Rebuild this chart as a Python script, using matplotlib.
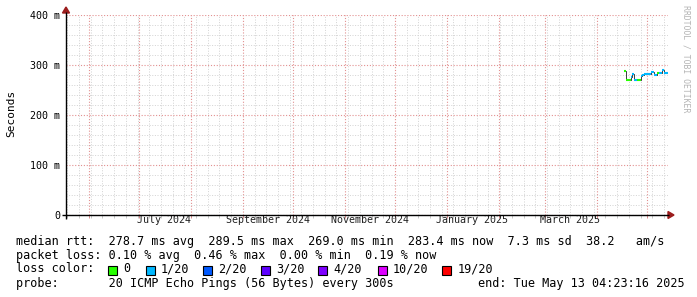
"""Smokeping-style 360-day RTT graph (rrdtool look-alike)."""

import matplotlib

matplotlib.use("Agg")
import matplotlib.pyplot as plt
import matplotlib.dates as mdates
import numpy as np
from matplotlib.patches import Polygon, Rectangle

# ---- data -------------------------------------------------------------------
graph_start = "2024-05-18T04:23:16"
graph_end = "2025-05-13T04:23:16"

sample_days = [
    "2025-04-17", "2025-04-18", "2025-04-19", "2025-04-20", "2025-04-21",
    "2025-04-22", "2025-04-23", "2025-04-24", "2025-04-25", "2025-04-26",
    "2025-04-27", "2025-04-28", "2025-04-29", "2025-04-30", "2025-05-01",
    "2025-05-02", "2025-05-03", "2025-05-04", "2025-05-05", "2025-05-06",
    "2025-05-07", "2025-05-08", "2025-05-09", "2025-05-10", "2025-05-11",
    "2025-05-12", "2025-05-13",
]
median_rtt_ms = [
    288.0, 269.0, 269.0, 270.0, 276.0,
    282.0, 269.0, 270.0, 270.0, 270.0,
    278.0, 280.0, 281.0, 281.0, 281.0,
    281.0, 285.0, 285.0, 279.0, 280.0,
    284.0, 284.0, 284.0, 289.5, 283.0,
    284.0, 283.4,
]
loss_level = [
    0, 0, 0, 0, 1,
    1, 1, 1, 0, 0,
    1, 1, 1, 1, 1,
    1, 1, 1, 1, 1,
    0, 1, 1, 1, 1,
    1, 1,
]

loss_labels = ["0", "1/20", "2/20", "3/20", "4/20", "10/20", "19/20"]
loss_colors = ["#26ff00", "#00b8ff", "#0059ff", "#5e00ff", "#7e00ff", "#dd00ff", "#ff0000"]

y_ticks = [0, 100, 200, 300, 400]
y_tick_labels = ["0", "100 m", "200 m", "300 m", "400 m"]
month_labels = ["July 2024", "September 2024", "November 2024", "January 2025", "March 2025"]
month_label_dates = ["2024-07-16", "2024-09-16", "2024-11-16", "2025-01-16", "2025-03-16"]

line_rtt = "median rtt:  278.7 ms avg  289.5 ms max  269.0 ms min  283.4 ms now  7.3 ms sd  38.2   am/s"
line_loss = "packet loss: 0.10 % avg  0.46 % max  0.00 % min  0.19 % now"
line_probe = "probe:       20 ICMP Echo Pings (56 Bytes) every 300s"
line_end = "end: Tue May 13 04:23:16 2025"

MONO = "DejaVu Sans Mono"
W, H = 697, 297
PX_L, PX_R, PX_T, PX_B = 66, 667.6, 15, 215


def main() -> None:
    fig = plt.figure(figsize=(W / 100, H / 100), dpi=100)
    fig.patch.set_facecolor("white")

    # ---- plot area ----
    ax = fig.add_axes([PX_L / W, (H - PX_B) / H, (PX_R - PX_L) / W, (PX_B - PX_T) / H], zorder=1)
    t0 = mdates.date2num(np.datetime64(graph_start))
    t1 = mdates.date2num(np.datetime64(graph_end))
    ax.set_xlim(t0, t1)
    ax.set_ylim(0, 400)
    for s in ax.spines.values():
        s.set_visible(False)

    ax.xaxis.set_major_locator(mdates.MonthLocator())
    ax.xaxis.set_minor_locator(mdates.WeekdayLocator(byweekday=mdates.SU))
    ax.set_yticks(y_ticks, y_tick_labels, fontsize=7.2, family=MONO)
    ax.set_yticks(np.arange(20, 400, 20), minor=True)
    ax.tick_params(axis="y", which="both", length=0, pad=4.3)
    ax.tick_params(axis="x", which="both", labelbottom=False, direction="out")
    ax.tick_params(axis="x", which="major", length=2.5, width=0.7, color="#d88a8a")
    ax.tick_params(axis="x", which="minor", length=1.8, width=0.7, color="#c8c8c8")

    # rrdtool style dotted grid
    dots = (0, (1, 1.6))
    ax.grid(which="minor", color="#d4d4d4", linestyle=dots, linewidth=0.72)
    ax.grid(which="major", color="#e29090", linestyle=dots, linewidth=0.8)
    ax.set_axisbelow(True)

    # median line: dark step outline, loss-coloured horizontals on top
    t = mdates.date2num(np.array(sample_days, dtype="datetime64[s]"))
    edges = np.append(t, t1)
    rtt = np.array(median_rtt_ms)
    ax.stairs(rtt, edges, baseline=None, color="#202020", linewidth=0.6, zorder=3)
    ax.hlines(rtt, edges[:-1], edges[1:], colors=[loss_colors[i] for i in loss_level],
              linewidth=1.5, zorder=4)

    for lab, d in zip(month_labels, month_label_dates):
        ax.text(mdates.date2num(np.datetime64(d)), -9.5, lab, ha="center", va="center",
                fontsize=7.2, family=MONO, color="#202020", clip_on=False)

    # ---- overlay in pixel coordinates: axes, arrows, legend ----
    ov = fig.add_axes([0, 0, 1, 1], zorder=3)
    ov.set_xlim(0, W)
    ov.set_ylim(H, 0)
    ov.axis("off")

    ov.plot([62, 669], [PX_B, PX_B], color="black", linewidth=1.0, solid_capstyle="butt")
    ov.plot([PX_L, PX_L], [219, 12], color="black", linewidth=1.0, solid_capstyle="butt")
    ov.add_patch(Polygon([(668, 211.5), (674, 215), (668, 218.5)], closed=True, color="#9b1c1c"))
    ov.add_patch(Polygon([(62.5, 13), (66, 7), (69.5, 13)], closed=True, color="#9b1c1c"))

    ov.text(11, 113, "Seconds", rotation=90, ha="center", va="center", fontsize=8, family=MONO)
    ov.text(686, 59, "RRDTOOL / TOBI OETIKER", rotation=270, ha="center", va="center",
            fontsize=5.9, family=MONO, color="#b4b4b4")

    fs = 8.47
    ov.text(16, 241, line_rtt, ha="left", va="center", fontsize=fs, family=MONO)
    ov.text(16, 255, line_loss, ha="left", va="center", fontsize=fs, family=MONO)
    ov.text(16, 269, "loss color:", ha="left", va="center", fontsize=fs, family=MONO)
    ov.text(16, 283, line_probe, ha="left", va="center", fontsize=fs, family=MONO)
    ov.text(478, 283, line_end, ha="left", va="center", fontsize=fs, family=MONO)

    box_x = [108, 145.7, 203.3, 261, 318.3, 377.7, 442.3]
    for bx, lab, col in zip(box_x, loss_labels, loss_colors):
        ov.add_patch(Rectangle((bx, 265.5), 9, 9, facecolor=col, edgecolor="black", linewidth=0.8))
        ov.text(bx + 15, 269, lab, ha="left", va="center", fontsize=fs, family=MONO)

    fig.savefig("out.png", dpi=100)
    plt.close(fig)


if __name__ == "__main__":
    main()
